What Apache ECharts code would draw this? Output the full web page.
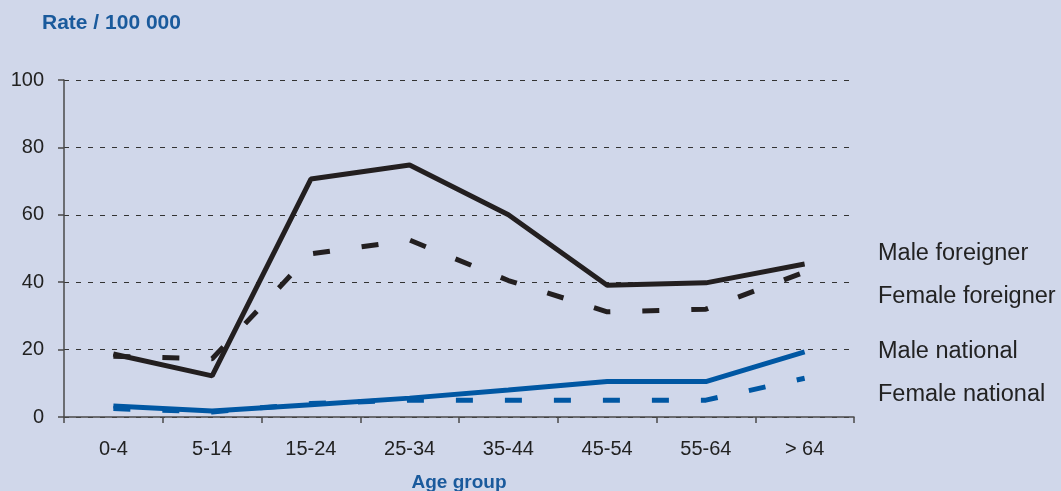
<!DOCTYPE html>
<html>
<head>
<meta charset="utf-8">
<script src="https://cdn.jsdelivr.net/npm/echarts@6/dist/echarts.min.js"></script>
<style>
  html, body { margin: 0; padding: 0; background: #d0d7ea; }
  #chart { width: 1061px; height: 491px; }
</style>
</head>
<body>
<div id="chart"></div>
<script>
var ageGroups = ['0-4', '5-14', '15-24', '25-34', '35-44', '45-54', '55-64', '> 64'];
var maleForeigner = [18.7, 12.2, 70.6, 74.8, 60, 39.1, 39.8, 45.4];
var femaleForeigner = [18, 17.3, 48.4, 52.5, 40.5, 31.2, 32, 43];
var maleNational = [3.3, 1.8, 3.6, 5.6, 8, 10.5, 10.5, 19.3];
var femaleNational = [2.5, 1.5, 4, 5, 5, 5, 5, 11.5];
var seriesNames = ['Male foreigner', 'Female foreigner', 'Male national', 'Female national'];

var myChart = echarts.init(document.getElementById('chart'));

var black = '#231f20';
var blue = '#0057a3';

function lineSeries(name, data, color, dashed) {
    return {
        name: name,
        type: 'line',
        data: data,
        symbol: 'none',
        animation: false,
        lineStyle: {
            color: color,
            width: 5,
            type: dashed ? [17, 32] : 'solid'
        }
    };
}

// vertical centres of the right-hand labels
var labelY = [254, 297, 352, 395];

var option = {
    backgroundColor: '#d0d7ea',
    animation: false,
    grid: { left: 64, right: 207, top: 80, bottom: 74, outerBoundsMode: 'none' },
    xAxis: {
        type: 'category',
        data: ageGroups,
        boundaryGap: true,
        name: 'Age group',
        nameLocation: 'middle',
        nameGap: 56,
        nameTextStyle: { color: '#1a5a9c', fontWeight: 'bold', fontSize: 19, fontFamily: 'Liberation Sans' },
        axisLine: { lineStyle: { color: '#4a4a4a', width: 1.5 } },
        axisTick: { show: true, length: 6, lineStyle: { color: '#4a4a4a', width: 1.5 } },
        axisLabel: { color: '#222', fontSize: 20, fontFamily: 'Liberation Sans', margin: 22 }
    },
    yAxis: {
        type: 'value',
        min: 0,
        max: 100,
        interval: 20,
        axisLine: { show: true, lineStyle: { color: '#4a4a4a', width: 1.5 } },
        axisTick: { show: true, length: 6, lineStyle: { color: '#4a4a4a', width: 1.5 } },
        axisLabel: { color: '#222', fontSize: 20, fontFamily: 'Liberation Sans', margin: 20 },
        splitLine: { show: true, lineStyle: { color: '#333', width: 1, type: [5, 7] } }
    },
    graphic: [
        {
            type: 'text', x: 42, y: 23,
            style: { text: 'Rate / 100 000', fill: '#1a5a9c', font: 'bold 21px "Liberation Sans"', verticalAlign: 'middle' }
        }
    ].concat(seriesNames.map(function (n, i) {
        return {
            type: 'text', x: 878, y: labelY[i],
            style: { text: n, fill: '#222', font: '23.5px "Liberation Sans"', verticalAlign: 'middle' }
        };
    })),
    series: [
        lineSeries(seriesNames[0], maleForeigner, black, false),
        lineSeries(seriesNames[1], femaleForeigner, black, true),
        lineSeries(seriesNames[2], maleNational, blue, false),
        lineSeries(seriesNames[3], femaleNational, blue, true)
    ]
};

myChart.setOption(option);
</script>
</body>
</html>
